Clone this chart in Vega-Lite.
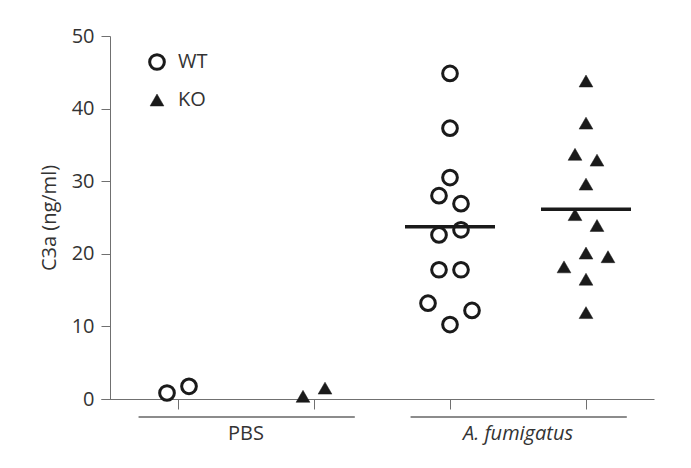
{
  "$schema": "https://vega.github.io/schema/vega-lite/v6.json",
  "width": 553,
  "height": 363,
  "autosize": {"type": "none"},
  "padding": {"left": 101, "top": 36, "right": 37, "bottom": 69},
  "background": "white",
  "config": {
    "font": "Open Sans",
    "view": {"stroke": null},
    "axisY": {
      "offset": -9,
      "tickSize": 9,
      "labelPadding": 7,
      "domainColor": "#707070",
      "tickColor": "#707070",
      "labelColor": "#333333",
      "labelFontSize": 20,
      "titleFontSize": 20,
      "titleFontWeight": "normal",
      "titleColor": "#333333",
      "titlePadding": 12,
      "grid": false,
      "tickCount": 5
    },
    "axisX": {
      "tickSize": 10,
      "labels": false,
      "domainColor": "#707070",
      "tickColor": "#707070",
      "grid": false
    },
    "legend": {
      "orient": "none",
      "legendX": 46,
      "legendY": 16,
      "padding": 0,
      "rowPadding": 14,
      "labelFontSize": 20,
      "labelColor": "#333333",
      "labelOffset": 11,
      "title": null
    }
  },
  "datasets": {
    "points": [
      {"group": "PBS WT", "genotype": "WT", "treatment": "PBS", "lane": -1, "c3a": 0.83},
      {"group": "PBS WT", "genotype": "WT", "treatment": "PBS", "lane": 1, "c3a": 1.75},
      {"group": "PBS KO", "genotype": "KO", "treatment": "PBS", "lane": -1, "c3a": 0.37},
      {"group": "PBS KO", "genotype": "KO", "treatment": "PBS", "lane": 1, "c3a": 1.5},
      {"group": "A. fumigatus WT", "genotype": "WT", "treatment": "A. fumigatus", "lane": 0, "c3a": 44.85},
      {"group": "A. fumigatus WT", "genotype": "WT", "treatment": "A. fumigatus", "lane": 0, "c3a": 37.3},
      {"group": "A. fumigatus WT", "genotype": "WT", "treatment": "A. fumigatus", "lane": 0, "c3a": 30.5},
      {"group": "A. fumigatus WT", "genotype": "WT", "treatment": "A. fumigatus", "lane": -1, "c3a": 28.0},
      {"group": "A. fumigatus WT", "genotype": "WT", "treatment": "A. fumigatus", "lane": 1, "c3a": 26.9},
      {"group": "A. fumigatus WT", "genotype": "WT", "treatment": "A. fumigatus", "lane": -1, "c3a": 22.6},
      {"group": "A. fumigatus WT", "genotype": "WT", "treatment": "A. fumigatus", "lane": 1, "c3a": 23.3},
      {"group": "A. fumigatus WT", "genotype": "WT", "treatment": "A. fumigatus", "lane": -1, "c3a": 17.8},
      {"group": "A. fumigatus WT", "genotype": "WT", "treatment": "A. fumigatus", "lane": 1, "c3a": 17.8},
      {"group": "A. fumigatus WT", "genotype": "WT", "treatment": "A. fumigatus", "lane": -2, "c3a": 13.2},
      {"group": "A. fumigatus WT", "genotype": "WT", "treatment": "A. fumigatus", "lane": 2, "c3a": 12.2},
      {"group": "A. fumigatus WT", "genotype": "WT", "treatment": "A. fumigatus", "lane": 0, "c3a": 10.25},
      {"group": "A. fumigatus KO", "genotype": "KO", "treatment": "A. fumigatus", "lane": 0, "c3a": 43.8},
      {"group": "A. fumigatus KO", "genotype": "KO", "treatment": "A. fumigatus", "lane": 0, "c3a": 38.0},
      {"group": "A. fumigatus KO", "genotype": "KO", "treatment": "A. fumigatus", "lane": -1, "c3a": 33.7},
      {"group": "A. fumigatus KO", "genotype": "KO", "treatment": "A. fumigatus", "lane": 1, "c3a": 32.9},
      {"group": "A. fumigatus KO", "genotype": "KO", "treatment": "A. fumigatus", "lane": 0, "c3a": 29.6},
      {"group": "A. fumigatus KO", "genotype": "KO", "treatment": "A. fumigatus", "lane": -1, "c3a": 25.4},
      {"group": "A. fumigatus KO", "genotype": "KO", "treatment": "A. fumigatus", "lane": 1, "c3a": 23.9},
      {"group": "A. fumigatus KO", "genotype": "KO", "treatment": "A. fumigatus", "lane": 0, "c3a": 20.1},
      {"group": "A. fumigatus KO", "genotype": "KO", "treatment": "A. fumigatus", "lane": 2, "c3a": 19.6},
      {"group": "A. fumigatus KO", "genotype": "KO", "treatment": "A. fumigatus", "lane": -2, "c3a": 18.2},
      {"group": "A. fumigatus KO", "genotype": "KO", "treatment": "A. fumigatus", "lane": 0, "c3a": 16.5},
      {"group": "A. fumigatus KO", "genotype": "KO", "treatment": "A. fumigatus", "lane": 0, "c3a": 11.9}
    ],
    "groups": [
      {"treatment": "PBS", "first": "PBS WT", "last": "PBS KO"},
      {"treatment": "A. fumigatus", "first": "A. fumigatus WT", "last": "A. fumigatus KO"}
    ]
  },
  "layer": [
    {
      "data": {"name": "points"},
      "mark": {"type": "point", "opacity": 1},
      "encoding": {
        "x": {
          "field": "group",
          "type": "nominal",
          "title": null,
          "sort": null,
          "scale": {
            "type": "band",
            "domain": ["PBS WT", "PBS KO", "A. fumigatus WT", "A. fumigatus KO"],
            "paddingInner": 0,
            "paddingOuter": 0.0331,
            "align": 1
          }
        },
        "xOffset": {
          "field": "lane",
          "type": "ordinal",
          "scale": {"type": "point", "domain": [-2, -1, 0, 1, 2], "range": [46, 90], "padding": 0}
        },
        "y": {
          "field": "c3a",
          "type": "quantitative",
          "title": "C3a (ng/ml)",
          "scale": {"domain": [0, 50], "nice": false}
        },
        "shape": {
          "field": "genotype",
          "type": "nominal",
          "scale": {"domain": ["WT", "KO"], "range": ["circle", "triangle-up"]}
        },
        "fill": {
          "field": "genotype",
          "type": "nominal",
          "scale": {"domain": ["WT", "KO"], "range": ["#ffffff", "#1a1a1a"]}
        },
        "stroke": {
          "field": "genotype",
          "type": "nominal",
          "scale": {"domain": ["WT", "KO"], "range": ["#1a1a1a", "#1a1a1a"]}
        },
        "size": {
          "field": "genotype",
          "type": "nominal",
          "scale": {"domain": ["WT", "KO"], "range": [216, 190]}
        },
        "strokeWidth": {
          "field": "genotype",
          "type": "nominal",
          "scale": {"domain": ["WT", "KO"], "range": [3, 0.5]}
        }
      }
    },
    {
      "data": {"name": "points"},
      "transform": [
        {"filter": "datum.treatment === 'A. fumigatus'"},
        {"aggregate": [{"op": "mean", "field": "c3a", "as": "mean_c3a"}], "groupby": ["group"]}
      ],
      "mark": {"type": "tick", "color": "#1a1a1a", "size": 90, "thickness": 3.5, "opacity": 1},
      "encoding": {
        "x": {"field": "group", "type": "nominal", "title": null},
        "y": {"field": "mean_c3a", "type": "quantitative", "title": "C3a (ng/ml)", "scale": {"domain": [0, 50], "nice": false}}
      }
    },
    {
      "data": {"name": "groups"},
      "mark": {"type": "rule", "color": "#1a1a1a", "strokeWidth": 1.2},
      "encoding": {
        "x": {"field": "first", "type": "nominal", "bandPosition": 0.21, "title": null},
        "x2": {"field": "last", "bandPosition": 0.8},
        "y": {"datum": -2.48, "type": "quantitative", "title": "C3a (ng/ml)", "scale": {"domain": [0, 50], "nice": false}}
      }
    },
    {
      "data": {"name": "groups"},
      "transform": [{"filter": "datum.treatment === 'PBS'"}],
      "mark": {"type": "text", "fontSize": 20, "color": "#333333", "baseline": "alphabetic", "align": "center"},
      "encoding": {
        "x": {"field": "last", "type": "nominal", "bandPosition": 0, "title": null},
        "y": {"datum": -5.65, "type": "quantitative", "title": "C3a (ng/ml)", "scale": {"domain": [0, 50], "nice": false}},
        "text": {"field": "treatment"}
      }
    },
    {
      "data": {"name": "groups"},
      "transform": [{"filter": "datum.treatment === 'A. fumigatus'"}],
      "mark": {"type": "text", "fontSize": 20, "fontStyle": "italic", "color": "#333333", "baseline": "alphabetic", "align": "center"},
      "encoding": {
        "x": {"field": "last", "type": "nominal", "bandPosition": 0, "title": null},
        "y": {"datum": -5.65, "type": "quantitative", "title": "C3a (ng/ml)", "scale": {"domain": [0, 50], "nice": false}},
        "text": {"field": "treatment"}
      }
    }
  ]
}
